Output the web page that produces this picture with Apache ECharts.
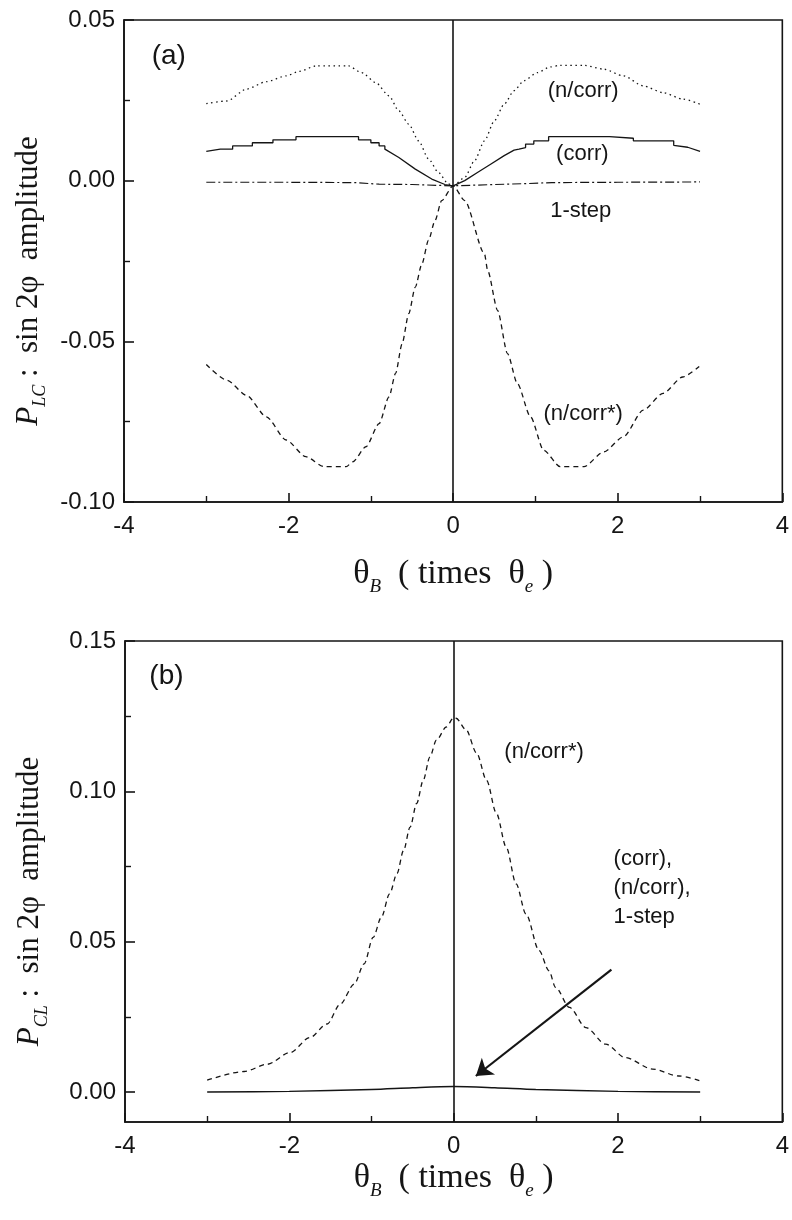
<!DOCTYPE html>
<html>
<head>
<meta charset="utf-8">
<title>sin 2φ amplitude</title>
<script src="https://cdn.jsdelivr.net/npm/echarts@6/dist/echarts.min.js"></script>
<style>
  html, body { margin: 0; padding: 0; background: #ffffff; }
  #chart { width: 792px; height: 1220px; }
</style>
</head>
<body>
<div id="chart"></div>
<script>
  // ---- panel (a): P_LC ----
  const a_ncorr_x = [-3, -2.75, -2.51, -2.27, -2.03, -1.87, -1.67, -1.27, -1.11, -0.94, -0.78, -0.66, -0.54, -0.42, -0.30, -0.18, -0.06, 0,
    0.14, 0.26, 0.38, 0.50, 0.62, 0.74, 0.86, 1.02, 1.18, 1.30, 1.59, 1.83, 2.07, 2.31, 2.55, 2.79, 3]
  const a_ncorr_y = [0.0240, 0.0248, 0.0285, 0.0308, 0.0326, 0.0340, 0.0357, 0.0357, 0.0336, 0.0305, 0.0264, 0.0217, 0.0176, 0.0124, 0.0068, 0.0026, -0.0010, -0.0016,
    0.0010, 0.0062, 0.0124, 0.0186, 0.0238, 0.0280, 0.0311, 0.0336, 0.0354, 0.0359, 0.0359, 0.0347, 0.0326, 0.0295, 0.0274, 0.0254, 0.0238]

  const a_corr_x = [-3, -2.83, -2.68, -2.68, -2.44, -2.44, -2.19, -2.19, -1.91, -1.91, -1.15, -1.15, -1.00, -1.00, -0.90, -0.90, -0.83, -0.83, -0.66, -0.46, -0.26, -0.10, 0,
    0.14, 0.30, 0.46, 0.62, 0.74, 0.80, 0.80, 0.88, 0.88, 0.98, 0.98, 1.16, 1.16, 1.90, 1.90, 2.19, 2.19, 2.68, 2.68, 2.85, 3]
  const a_corr_y = [0.0091, 0.0098, 0.0098, 0.0108, 0.0108, 0.0118, 0.0118, 0.0127, 0.0127, 0.0137, 0.0137, 0.0127, 0.0127, 0.0118, 0.0118, 0.0108, 0.0108, 0.0098, 0.0072, 0.0036, 0.0005, -0.0012, -0.0016,
    0.0000, 0.0026, 0.0052, 0.0078, 0.0095, 0.0098, 0.0103, 0.0103, 0.0114, 0.0114, 0.0124, 0.0124, 0.0137, 0.0137, 0.0132, 0.0132, 0.0124, 0.0124, 0.0110, 0.0104, 0.0091]

  const a_onestep_x = [-3, -2, -1.2, -0.9, -0.5, 0, 0.5, 0.9, 1.2, 2, 3]
  const a_onestep_y = [-0.0005, -0.0005, -0.0006, -0.0011, -0.0012, -0.0016, -0.0012, -0.0009, -0.0006, -0.0005, -0.0004]

  const a_ncorrs_x = [-3, -2.75, -2.51, -2.27, -2.03, -1.79, -1.57, -1.30, -1.22, -1.06, -0.90, -0.78, -0.70, -0.62, -0.54, -0.46, -0.38, -0.30, -0.22, -0.14, 0,
    0.14, 0.38, 0.42, 0.54, 0.66, 0.78, 0.94, 1.10, 1.30, 1.59, 1.83, 2.07, 2.31, 2.55, 2.79, 2.99]
  const a_ncorrs_y = [-0.0572, -0.0621, -0.0668, -0.0735, -0.0807, -0.0859, -0.0890, -0.0890, -0.0875, -0.0828, -0.0756, -0.0673, -0.0600, -0.0507, -0.0414, -0.0331, -0.0259, -0.0186, -0.0124, -0.0062, -0.0016,
    -0.0062, -0.0227, -0.0280, -0.0404, -0.0538, -0.0631, -0.0735, -0.0839, -0.0890, -0.0890, -0.0844, -0.0797, -0.0714, -0.0662, -0.0611, -0.0578]

  // ---- panel (b): P_CL ----
  const b_ncorrs_x = [-3, -2.55, -2.27, -1.99, -1.75, -1.54, -1.38, -1.21, -1.09, -0.98, -0.88, -0.78, -0.69, -0.61, -0.53, -0.45, -0.37, -0.29, -0.21, -0.09, 0,
    0.03, 0.15, 0.28, 0.40, 0.52, 0.64, 0.76, 0.88, 1.04, 1.16, 1.24, 1.41, 1.61, 1.85, 2.09, 2.42, 2.74, 3.0]
  const b_ncorrs_y = [0.0039, 0.0068, 0.0092, 0.0131, 0.0181, 0.0226, 0.0292, 0.0359, 0.0426, 0.0514, 0.0581, 0.0659, 0.0726, 0.0803, 0.0881, 0.0960, 0.1037, 0.1114, 0.1170, 0.1214, 0.1245,
    0.1243, 0.1205, 0.1127, 0.1037, 0.0927, 0.0814, 0.0692, 0.0592, 0.0470, 0.0403, 0.0348, 0.0281, 0.0214, 0.0159, 0.0114, 0.0076, 0.0053, 0.0037]

  const b_others_x = [-3, -2, -1, -0.5, 0, 0.5, 1, 2, 3]
  const b_others_y = [0.0000, 0.0002, 0.0008, 0.0014, 0.0018, 0.0014, 0.0008, 0.0002, 0.0000]

  const b_major_ticks = [0, 0.05, 0.10, 0.15]
  const b_minor_ticks = [0.025, 0.075, 0.125]

  const ink = '#151515'
  const sans = '"Liberation Sans", Arial, sans-serif'
  const serif = '"Liberation Serif", "Times New Roman", serif'

  const pts = (xs, ys) => xs.map((x, i) => [x, ys[i]])

  const yTitleRich = {
    t: {fontFamily: serif, fontSize: 31, color: ink, lineHeight: 42},
    i: {fontFamily: serif, fontSize: 31, fontStyle: 'italic', color: ink, lineHeight: 42},
    s: {fontFamily: serif, fontSize: 18, fontStyle: 'italic', color: ink, lineHeight: 16, verticalAlign: 'bottom'}
  }
  const xTitleRich = {
    t: {fontFamily: serif, fontSize: 34, color: ink, lineHeight: 44},
    s: {fontFamily: serif, fontSize: 19, fontStyle: 'italic', color: ink, lineHeight: 16, verticalAlign: 'bottom'}
  }

  function tag (text, x, y, pos, size) {
    return {
      coord: [x, y],
      symbol: 'circle',
      symbolSize: 1,
      itemStyle: {color: 'rgba(0,0,0,0)'},
      label: {
        show: true,
        position: pos || 'inside',
        distance: 0,
        formatter: text,
        fontFamily: sans,
        fontSize: size || 22,
        lineHeight: 29,
        align: pos === 'right' ? 'left' : 'center',
        color: ink
      }
    }
  }

  function xAxisOf (idx, gap) {
    return {
      gridIndex: idx,
      type: 'value',
      min: -4,
      max: 4,
      interval: 2,
      axisLine: {show: true, onZero: false, lineStyle: {color: ink, width: 1.6}},
      axisTick: {inside: true, length: 9, lineStyle: {color: ink, width: 1.6}},
      minorTick: {show: true, splitNumber: 2, length: 6, lineStyle: {color: ink, width: 1.4}},
      splitLine: {show: false},
      axisLabel: {showMinLabel: true, showMaxLabel: true, fontFamily: sans, fontSize: 24, color: ink, margin: 12},
      name: '{t|θ}{s|B}{t|  ( times  θ}{s|e}{t| )}',
      nameLocation: 'middle',
      nameGap: gap,
      nameTextStyle: {rich: xTitleRich}
    }
  }

  const lineBase = {type: 'line', showSymbol: false, symbol: 'none', animation: false}

  const chart = echarts.init(document.getElementById('chart'))
  chart.setOption({
    animation: false,
    backgroundColor: '#ffffff',
    grid: [
      {left: 124, top: 20, right: 5, height: 482, show: true, borderColor: ink, borderWidth: 1.6},
      {left: 125, top: 641, right: 9, height: 481, show: true, borderColor: ink, borderWidth: 1.6}
    ],
    xAxis: [xAxisOf(0, 50), xAxisOf(1, 34)],
    yAxis: [
      {
        gridIndex: 0,
        type: 'value',
        min: -0.10,
        max: 0.05,
        interval: 0.05,
        axisLine: {show: true, onZero: false, lineStyle: {color: ink, width: 1.6}},
        axisTick: {inside: true, length: 10, lineStyle: {color: ink, width: 1.6}},
        minorTick: {show: true, splitNumber: 2, length: 6, lineStyle: {color: ink, width: 1.4}},
        splitLine: {show: false},
        axisLabel: {fontFamily: sans, fontSize: 24, color: ink, margin: 9, formatter: v => v.toFixed(2)},
        name: '{i|P}{s|LC}{t| :  sin 2φ  amplitude}',
        nameLocation: 'middle',
        nameRotate: 90,
        nameGap: 74,
        nameTextStyle: {rich: yTitleRich, padding: [0, 40, 0, 0]}
      },
      {
        gridIndex: 1,
        type: 'value',
        min: -0.01,
        max: 0.15,
        axisLine: {show: true, onZero: false, lineStyle: {color: ink, width: 1.6}},
        axisTick: {inside: true, length: 10, customValues: b_major_ticks, lineStyle: {color: ink, width: 1.6}},
        splitLine: {show: false},
        axisLabel: {customValues: b_major_ticks, fontFamily: sans, fontSize: 24, color: ink, margin: 9, formatter: v => v.toFixed(2)},
        name: '{i|P}{s|CL}{t| :  sin 2φ  amplitude}',
        nameLocation: 'middle',
        nameRotate: 90,
        nameGap: 74,
        nameTextStyle: {rich: yTitleRich, padding: [0, 40, 0, 0]}
      },
      {
        // minor ticks only, panel (b)
        gridIndex: 1,
        type: 'value',
        min: -0.01,
        max: 0.15,
        position: 'left',
        axisLine: {show: false, onZero: false},
        axisTick: {show: true, inside: true, length: 6, customValues: b_minor_ticks, lineStyle: {color: ink, width: 1.4}},
        axisLabel: {show: false},
        splitLine: {show: false}
      }
    ],
    series: [
      {
        ...lineBase,
        name: '(n/corr)',
        xAxisIndex: 0,
        yAxisIndex: 0,
        smooth: 0.25,
        smoothMonotone: 'x',
        data: pts(a_ncorr_x, a_ncorr_y),
        lineStyle: {color: ink, width: 1.3, type: [1.5, 3.5]},
        markPoint: {
          silent: true,
          animation: false,
          data: [
            tag('(a)', -3.67, 0.0388, 'right', 28),
            tag('(n/corr)', 1.58, 0.0280),
            tag('(corr)', 1.57, 0.0084),
            tag('1-step', 1.55, -0.0093),
            tag('(n/corr*)', 1.58, -0.0727)
          ]
        }
      },
      {
        ...lineBase,
        name: '(corr)',
        xAxisIndex: 0,
        yAxisIndex: 0,
        data: pts(a_corr_x, a_corr_y),
        lineStyle: {color: ink, width: 1.3, type: 'solid'}
      },
      {
        ...lineBase,
        name: '1-step',
        xAxisIndex: 0,
        yAxisIndex: 0,
        data: pts(a_onestep_x, a_onestep_y),
        lineStyle: {color: ink, width: 1.2, type: [9, 3, 2, 3]}
      },
      {
        ...lineBase,
        name: '(n/corr*)',
        xAxisIndex: 0,
        yAxisIndex: 0,
        smooth: 0.25,
        smoothMonotone: 'x',
        data: pts(a_ncorrs_x, a_ncorrs_y),
        lineStyle: {color: ink, width: 1.3, type: [5, 4]},
        markLine: {
          silent: true,
          animation: false,
          symbol: ['none', 'none'],
          label: {show: false},
          lineStyle: {color: ink, width: 1.6, type: 'solid'},
          data: [{xAxis: 0}]
        }
      },
      {
        ...lineBase,
        name: '(n/corr*) b',
        xAxisIndex: 1,
        yAxisIndex: 1,
        smooth: 0.3,
        smoothMonotone: 'x',
        data: pts(b_ncorrs_x, b_ncorrs_y),
        lineStyle: {color: ink, width: 1.3, type: [5, 4]},
        markLine: {
          silent: true,
          animation: false,
          symbol: ['none', 'none'],
          label: {show: false},
          lineStyle: {color: ink, width: 1.6, type: 'solid'},
          data: [{xAxis: 0}]
        },
        markPoint: {
          silent: true,
          animation: false,
          data: [
            tag('(b)', -3.71, 0.1383, 'right', 28),
            tag('(n/corr*)', 1.10, 0.113),
            tag('(corr),\n(n/corr),\n1-step', 1.94, 0.0677, 'right')
          ]
        }
      },
      {
        ...lineBase,
        name: '(corr), (n/corr), 1-step',
        xAxisIndex: 1,
        yAxisIndex: 1,
        smooth: 0.3,
        data: pts(b_others_x, b_others_y),
        lineStyle: {color: ink, width: 1.4, type: 'solid'},
        markLine: {
          silent: true,
          animation: false,
          symbol: ['none', 'arrow'],
          symbolSize: 16,
          label: {show: false},
          lineStyle: {color: ink, width: 2.2, type: 'solid'},
          data: [[
            {coord: [1.92, 0.0407], symbol: 'none'},
            {coord: [0.27, 0.0053], symbol: 'arrow', symbolSize: 16}
          ]]
        }
      }
    ]
  })
</script>
</body>
</html>
